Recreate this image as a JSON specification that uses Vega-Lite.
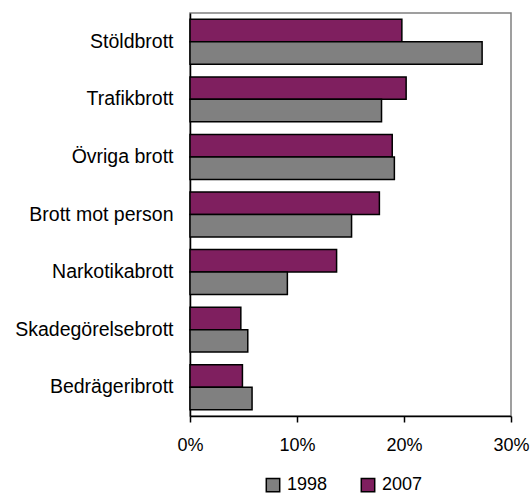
{
  "$schema": "https://vega.github.io/schema/vega-lite/v6.json",
  "autosize": {"type": "none"},
  "padding": {"left": 190, "top": 13, "right": 19, "bottom": 79},
  "width": 321,
  "height": 403,
  "background": "white",
  "config": {
    "font": "Liberation Sans",
    "view": {"stroke": "#808080", "strokeWidth": 1.5},
    "axis": {"labelFont": "Liberation Sans", "labelFontSize": 18, "labelColor": "black", "grid": false}
  },
  "data": {
    "values": [
      {"brott": "Stöldbrott", "year": "2007", "andel": 19.8},
      {"brott": "Stöldbrott", "year": "1998", "andel": 27.3},
      {"brott": "Trafikbrott", "year": "2007", "andel": 20.2},
      {"brott": "Trafikbrott", "year": "1998", "andel": 17.9},
      {"brott": "Övriga brott", "year": "2007", "andel": 18.9},
      {"brott": "Övriga brott", "year": "1998", "andel": 19.1},
      {"brott": "Brott mot person", "year": "2007", "andel": 17.7},
      {"brott": "Brott mot person", "year": "1998", "andel": 15.1},
      {"brott": "Narkotikabrott", "year": "2007", "andel": 13.7},
      {"brott": "Narkotikabrott", "year": "1998", "andel": 9.1},
      {"brott": "Skadegörelsebrott", "year": "2007", "andel": 4.75},
      {"brott": "Skadegörelsebrott", "year": "1998", "andel": 5.4},
      {"brott": "Bedrägeribrott", "year": "2007", "andel": 4.9},
      {"brott": "Bedrägeribrott", "year": "1998", "andel": 5.8}
    ]
  },
  "mark": {"type": "bar", "stroke": "black", "strokeWidth": 1.5},
  "encoding": {
    "y": {
      "field": "brott",
      "type": "nominal",
      "sort": null,
      "scale": {"paddingInner": 0.22, "paddingOuter": 0.11},
      "axis": {"title": null, "ticks": false, "domainColor": "black", "domainWidth": 1.5, "labelPadding": 17, "labelFontSize": 19.5}
    },
    "yOffset": {
      "field": "year",
      "type": "nominal",
      "scale": {"domain": ["2007", "1998"], "paddingInner": 0, "paddingOuter": 0}
    },
    "x": {
      "field": "andel",
      "type": "quantitative",
      "scale": {"domain": [0, 30], "nice": false},
      "axis": {"title": null, "values": [0, 10, 20, 30], "labelExpr": "datum.value + '%'", "labelFlush": false, "labelOverlap": false, "domainColor": "black", "domainWidth": 1.5, "tickColor": "black", "tickWidth": 1.5, "tickSize": 6, "labelPadding": 14}
    },
    "color": {
      "field": "year",
      "type": "nominal",
      "scale": {"domain": ["1998", "2007"], "range": ["#808080", "#7F1F5F"]},
      "legend": {
        "title": null,
        "orient": "none",
        "direction": "horizontal",
        "legendX": 74,
        "legendY": 463,
        "symbolType": "square",
        "symbolSize": 180,
        "symbolStrokeColor": "black",
        "symbolStrokeWidth": 1.5,
        "symbolOpacity": 1,
        "labelFont": "Liberation Sans",
        "labelFontSize": 18,
        "labelColor": "black",
        "labelOffset": 5,
        "columnPadding": 30
      }
    }
  }
}
